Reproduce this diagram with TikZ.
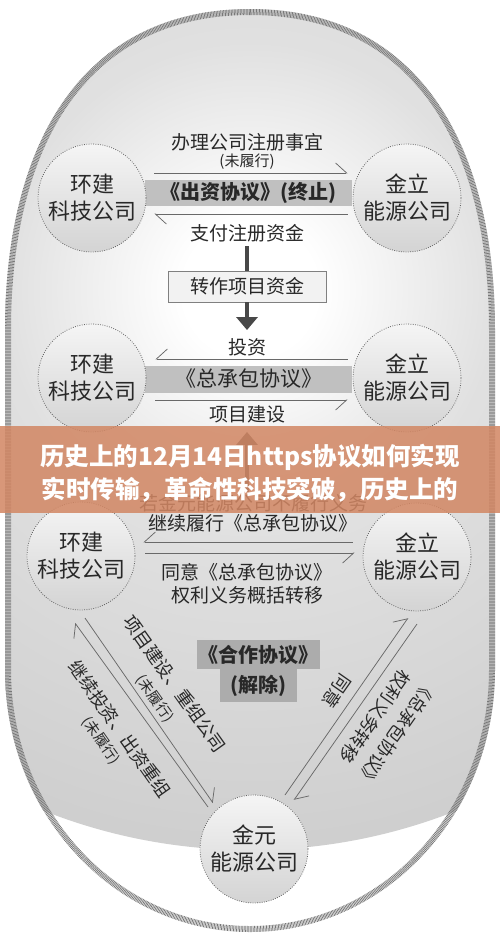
\documentclass[tikz,border=0pt]{standalone}
\usepackage{fontspec}
\setmainfont{Noto Sans CJK SC}
\usetikzlibrary{arrows.meta,calc}
\definecolor{txt}{RGB}{40,40,40}
\definecolor{lin}{RGB}{105,105,105}
\definecolor{bandc}{RGB}{192,192,192}
\definecolor{cboxc}{RGB}{172,172,172}
\definecolor{bannerc}{RGB}{210,135,100}
\definecolor{hatchc}{RGB}{120,120,120}
\definecolor{stemc}{RGB}{72,72,72}
\definecolor{stepfill}{RGB}{242,242,242}
\pgfdeclareradialshading{bgrad}{\pgfpoint{0bp}{0bp}}{color(0bp)=(white); color(3bp)=(white); color(11bp)=(black!12); color(25bp)=(black!19); color(50bp)=(black!19)}
\begin{document}
\begin{tikzpicture}[x=1pt,y=-1pt,
  company/.style={circle, minimum size=108pt, inner sep=0pt, draw=black!60, dash pattern=on 0.8pt off 1.5pt, line width=0.8pt, top color=black!4, bottom color=black!17, align=center, text=txt, font=\fontsize{22}{27}\selectfont},
  lbl/.style={inner sep=0pt, align=center, text=txt, font=\fontsize{19}{23}\selectfont},
  paren/.style={inner sep=0pt, text=txt, font=\fontsize{15}{18}\selectfont},
  bandbox/.style={fill=bandc, inner sep=0pt, text=txt, minimum width=207pt},
  coopbox/.style={fill=cboxc, inner sep=0pt, text=txt, font=\fontsize{20}{24}\selectfont\bfseries},
  stepbox/.style={draw=black!50, line width=0.7pt, fill=stepfill, minimum width=158pt, minimum height=31pt, inner sep=0pt, text=txt, font=\fontsize{19}{23}\selectfont},
  hl/.style={draw=lin, line width=0.75pt, -{Straight Barb[left, length=11pt, width=20pt]}},
  hr/.style={draw=lin, line width=0.75pt, -{Straight Barb[right, length=11pt, width=20pt]}},
  stem/.style={draw=stemc, line width=4.5pt},
  stemarrow/.style={draw=stemc, line width=4.5pt, -{Triangle[length=13pt, width=21pt]}},
  diag/.style={inner sep=0pt, text=txt, font=\fontsize{18}{22}\selectfont},
  diagp/.style={inner sep=0pt, text=txt, font=\fontsize{14.5}{18}\selectfont},
]
\useasboundingbox (0,0) rectangle (500,940);
\fill[white] (0,0) rectangle (500,940);
% background shape
\begin{scope}
\clip (250,9) .. controls (415,9) and (495,140) .. (495,330) -- (495,670) .. controls (495,815) and (385,932) .. (250,932) .. controls (115,932) and (5,815) .. (5,670) -- (5,330) .. controls (5,140) and (85,9) .. cycle;
\shade[shading=bgrad] (250,290) circle (560);
\end{scope}
\draw[hatchc, line width=6pt, dash pattern=on 0.75pt off 0.75pt] (250,12) .. controls (413,12) and (492,141) .. (492,330) -- (492,670) .. controls (492,813) and (383,929) .. (250,929) .. controls (117,929) and (8,813) .. (8,670) -- (8,330) .. controls (8,141) and (87,12) .. cycle;

% row 1
\node[bandbox, minimum height=26pt, font=\fontsize{20}{24}\selectfont\bfseries] (b1) at (248.5,193) {《出资协议》(终止)};
\node[company] (c1L) at (92,198) {环建\\科技公司};
\node[company] (c1R) at (407,198) {金立\\能源公司};
\node[lbl] (t1a) at (247,142) {办理公司注册事宜};
\node[paren] (t1b) at (247,162) {(未履行)};
\node[lbl] (t1c) at (247,233) {支付注册资金};
\draw[hl] ([shift={(8,-25)}]c1L.east) -- ([shift={(-5,-25)}]c1R.west);
\draw[hl] ([shift={(-5,16)}]c1R.west) -- ([shift={(8,16)}]c1L.east);

\node[stepbox] (box) at (247,286.5) {转作项目资金};

% row 2
\node[bandbox, minimum height=27pt, font=\fontsize{21}{25}\selectfont] (b2) at (248.5,379) {《总承包协议》};
\node[company] (c2L) at (92,378) {环建\\科技公司};
\node[company] (c2R) at (407,378) {金立\\能源公司};
\node[lbl] (t2a) at (247,347) {投资};
\node[lbl] (t2b) at (247,414) {项目建设};
\draw[hr] ([shift={(-5,-19)}]c2R.west) -- ([shift={(9,-19)}]c2L.east);
\draw[hr] ([shift={(9,22)}]c2L.east) -- ([shift={(-5,22)}]c2R.west);

\draw[stem] ([shift={(0,4)}]t1c.south) -- (box.north);
\draw[stemarrow] (box.south) -- ([shift={(0,-8)}]t2a.north);

% row 3
\node[lbl] (t3a) at (253,503) {若金元能源公司不履行义务};
\node[lbl] (t3b) at (253,523) {继续履行《总承包协议》};
\node[company] (c3L) at (81,556) {环建\\科技公司};
\node[company] (c3R) at (417,557) {金立\\能源公司};
\draw[hr] ([shift={(-10,-15)}]c3R.west) -- ([shift={(8,-14)}]c3L.east);
\draw[hr] ([shift={(10,-3)}]c3L.east) -- ([shift={(-8,-4)}]c3R.west);
\node[lbl] (t3c) at (247,583.5) {同意《总承包协议》\\权利义务概括转移};
\draw[stemarrow] ($(t2b.south |- t3a.north)+(0,-2)$) -- ([shift={(0,9)}]t2b.south);

% centre
\node[coopbox, minimum width=123pt, minimum height=29pt] (g1) at (258.5,654.5) {《合作协议》};
\node[coopbox, minimum width=77pt, minimum height=33pt, anchor=north] (g2) at (g1.south) {(解除)};

% bottom
\node[company] (c4) at (254,849) {金元\\能源公司};

% diagonals
\draw[hl] ([shift={(-46,-42)}]c4.center) -- ([shift={(-6,67)}]c3L.center);
\draw[hl] ([shift={(4,62)}]c3L.center) -- ([shift={(-41,-46)}]c4.center);
\draw[hl] ([shift={(31,-54)}]c4.center) -- ([shift={(-9,61)}]c3R.center);
\draw[hl] ([shift={(0,67)}]c3R.center) -- ([shift={(40,-49)}]c4.center);

\node[diag, rotate=-54.6] (d1a) at (175,684) {项目建设、重组公司};
\node[diagp, rotate=-54.6] (d1b) at (155,699) {(未履行)};
\node[diag, rotate=-54.8] (d2a) at (120,729) {继续投资、出资重组};
\node[diagp, rotate=-54.8] (d2b) at (101,741) {(未履行)};
\node[diag, rotate=-125] (d3) at (337,691) {同意};
\node[diag, rotate=-125] (d4a) at (397,734) {《总承包协议》};
\node[diag, rotate=-125] (d4b) at (375,717) {权利义务转移};

% banner
\node[fill=bannerc, fill opacity=0.86, minimum width=500pt, minimum height=87pt, inner sep=0pt] (ban) at (250,469.5) {};
\node[text=white, font=\fontsize{24.5}{33}\selectfont\bfseries, align=center, inner sep=0pt] (bt) at (250,473.5) {历史上的12月14日https协议如何实现\\实时传输，革命性科技突破，历史上的};
\end{tikzpicture}
\end{document}
